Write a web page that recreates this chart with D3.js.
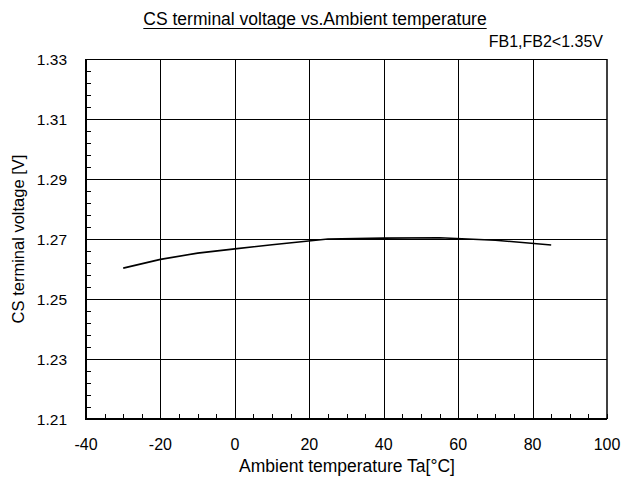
<!DOCTYPE html>
<html><head><meta charset="utf-8">
<script src="https://cdn.jsdelivr.net/npm/d3@7"></script>
<style>body{margin:0;background:#fff}svg{display:block}text{font-family:"Liberation Sans",Arial,sans-serif;fill:#000}</style>
</head><body><svg id="c" width="639" height="480"></svg>
<script>
const temps = [-30, -20, -10, 0, 10, 25, 40, 55, 70, 85];
const volts = [1.2603, 1.2632, 1.2653, 1.2667, 1.2681, 1.2700, 1.2703, 1.2704, 1.2696, 1.2680];
const xTicks = [-40, -20, 0, 20, 40, 60, 80, 100];
const yTicks = [1.21, 1.23, 1.25, 1.27, 1.29, 1.31, 1.33];
const title = "CS terminal voltage vs.Ambient temperature";
const note = "FB1,FB2<1.35V";
const xTitle = "Ambient temperature Ta[°C]";
const yTitle = "CS terminal voltage [V]";

const svg = d3.select("#c");
const L = 86, R = 607, T = 59, B = 419;
const x = d3.scaleLinear().domain([-40, 100]).range([L, R]);
const y = d3.scaleLinear().domain([1.21, 1.33]).range([B, T]);

// grid
const g = svg.append("g");
g.selectAll("line.v").data(xTicks.slice(1, -1)).join("line")
  .attr("x1", d => Math.round(x(d)) + 0.5).attr("x2", d => Math.round(x(d)) + 0.5)
  .attr("y1", T).attr("y2", B).attr("stroke", "#000").attr("stroke-width", 1);
g.selectAll("line.h").data(yTicks.slice(1, -1)).join("line")
  .attr("y1", d => Math.round(y(d)) + 0.5).attr("y2", d => Math.round(y(d)) + 0.5)
  .attr("x1", L).attr("x2", R).attr("stroke", "#000").attr("stroke-width", 1);

// minor ticks
const yMinor = d3.range(0, 31).map(i => 1.21 + i * 0.004);
g.selectAll("line.ym").data(yMinor).join("line")
  .attr("x1", L).attr("x2", L + 5)
  .attr("y1", d => Math.round(y(d)) + 0.5).attr("y2", d => Math.round(y(d)) + 0.5)
  .attr("stroke", "#000");
const xMinor = d3.range(0, 29).map(i => -40 + i * 5);
g.selectAll("line.xm").data(xMinor).join("line")
  .attr("y1", B).attr("y2", B - 5)
  .attr("x1", d => Math.round(x(d)) + 0.5).attr("x2", d => Math.round(x(d)) + 0.5)
  .attr("stroke", "#000");

// frame
svg.append("line").attr("x1", L).attr("x2", R).attr("y1", T + 0.5).attr("y2", T + 0.5).attr("stroke", "#000");
svg.append("line").attr("x1", R).attr("x2", R).attr("y1", T).attr("y2", B).attr("stroke", "#000").attr("stroke-width", 1.5);
svg.append("line").attr("x1", L).attr("x2", L).attr("y1", T).attr("y2", B + 1).attr("stroke", "#000").attr("stroke-width", 2);
svg.append("line").attr("x1", L - 1).attr("x2", R).attr("y1", B).attr("y2", B).attr("stroke", "#000").attr("stroke-width", 2);

// tick labels
svg.selectAll("text.xt").data(xTicks).join("text")
  .attr("x", d => x(d)).attr("y", 450).attr("text-anchor", "middle")
  .attr("font-size", 16).text(d => d);
svg.selectAll("text.yt").data(yTicks).join("text")
  .attr("x", 67).attr("y", d => y(d) + 5.5).attr("text-anchor", "end")
  .attr("font-size", 15.5).text(d => d.toFixed(2));

// line
const line = d3.line().x((d, i) => x(temps[i])).y(d => y(d));
svg.append("path").datum(volts).attr("d", line)
  .attr("fill", "none").attr("stroke", "#000").attr("stroke-width", 1.6);

// titles
const t = svg.append("text").attr("x", 315).attr("y", 25).attr("text-anchor", "middle")
  .attr("font-size", 17.5).text(title);
const bb = t.node().getBBox();
svg.append("line").attr("x1", bb.x).attr("x2", bb.x + bb.width).attr("y1", 28.5).attr("y2", 28.5).attr("stroke", "#000");
svg.append("text").attr("x", 603).attr("y", 47).attr("text-anchor", "end").attr("font-size", 16).text(note);
svg.append("text").attr("x", 347).attr("y", 472).attr("text-anchor", "middle").attr("font-size", 17.5).text(xTitle);
svg.append("text").attr("transform", "translate(24,239) rotate(-90)").attr("text-anchor", "middle")
  .attr("font-size", 16.5).text(yTitle);
</script></body></html>
